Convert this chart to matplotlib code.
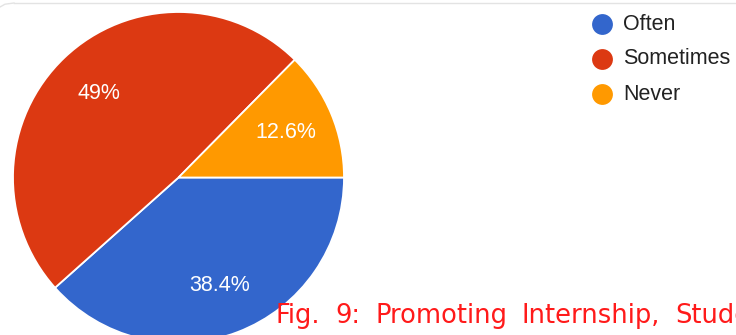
import matplotlib
matplotlib.use("Agg")
import matplotlib.pyplot as plt
from matplotlib.lines import Line2D

categories = ["Often", "Sometimes", "Never"]
shares = [38.4, 49.0, 12.6]
colors = ["#3366cc", "#dc3912", "#ff9900"]
caption_words = ["Fig.", "9:", "Promoting", "Internship,", "Students"]

W, H = 736, 335
fig = plt.figure(figsize=(W / 100, H / 100), dpi=100)
fig.patch.set_facecolor("white")

# one axes covering the whole canvas, in pixel units (y pointing down)
ax = fig.add_axes([0, 0, 1, 1])
ax.set_xlim(0, W)
ax.set_ylim(H, 0)
ax.axis("off")

cx, cy, r = 178.5, 177.5, 165.5

wedges, _, autotexts = ax.pie(
    shares,
    colors=colors,
    center=(cx, cy),
    radius=r,
    startangle=0,
    counterclock=True,
    autopct=lambda p: f"{p:.3g}%",
    pctdistance=0.7,
    wedgeprops=dict(edgecolor="white", linewidth=1.3),
    textprops=dict(color="white", fontsize=15.5, family="Liberation Sans"),
)
ax.set_xlim(0, W)
ax.set_ylim(H, 0)
ax.set_aspect("auto")

# card border across the top
ax.add_line(Line2D([14, W], [3, 3], color="#e3e3e3", linewidth=1.0))
ax.add_line(Line2D([0, 5, 14], [7, 4.2, 3], color="#e3e3e3", linewidth=1.0))

# legend
legend_y = [24, 59, 94]
for name, col, ly in zip(categories, colors, legend_y):
    ax.scatter([602], [ly], s=225, color=col, zorder=5, linewidths=0)
    ax.text(623, ly, name, fontsize=15.5, color="#222222",
            family="Liberation Sans", va="center", ha="left")

# justified caption, one word at a time
word_x = [275, 335, 375, 522, 675]
for word, wx in zip(caption_words, word_x):
    ax.text(wx, 323, word, fontsize=18.5, color="#ff1a1a",
            family="DejaVu Sans", va="baseline", ha="left")

fig.savefig("out.png", dpi=100)
